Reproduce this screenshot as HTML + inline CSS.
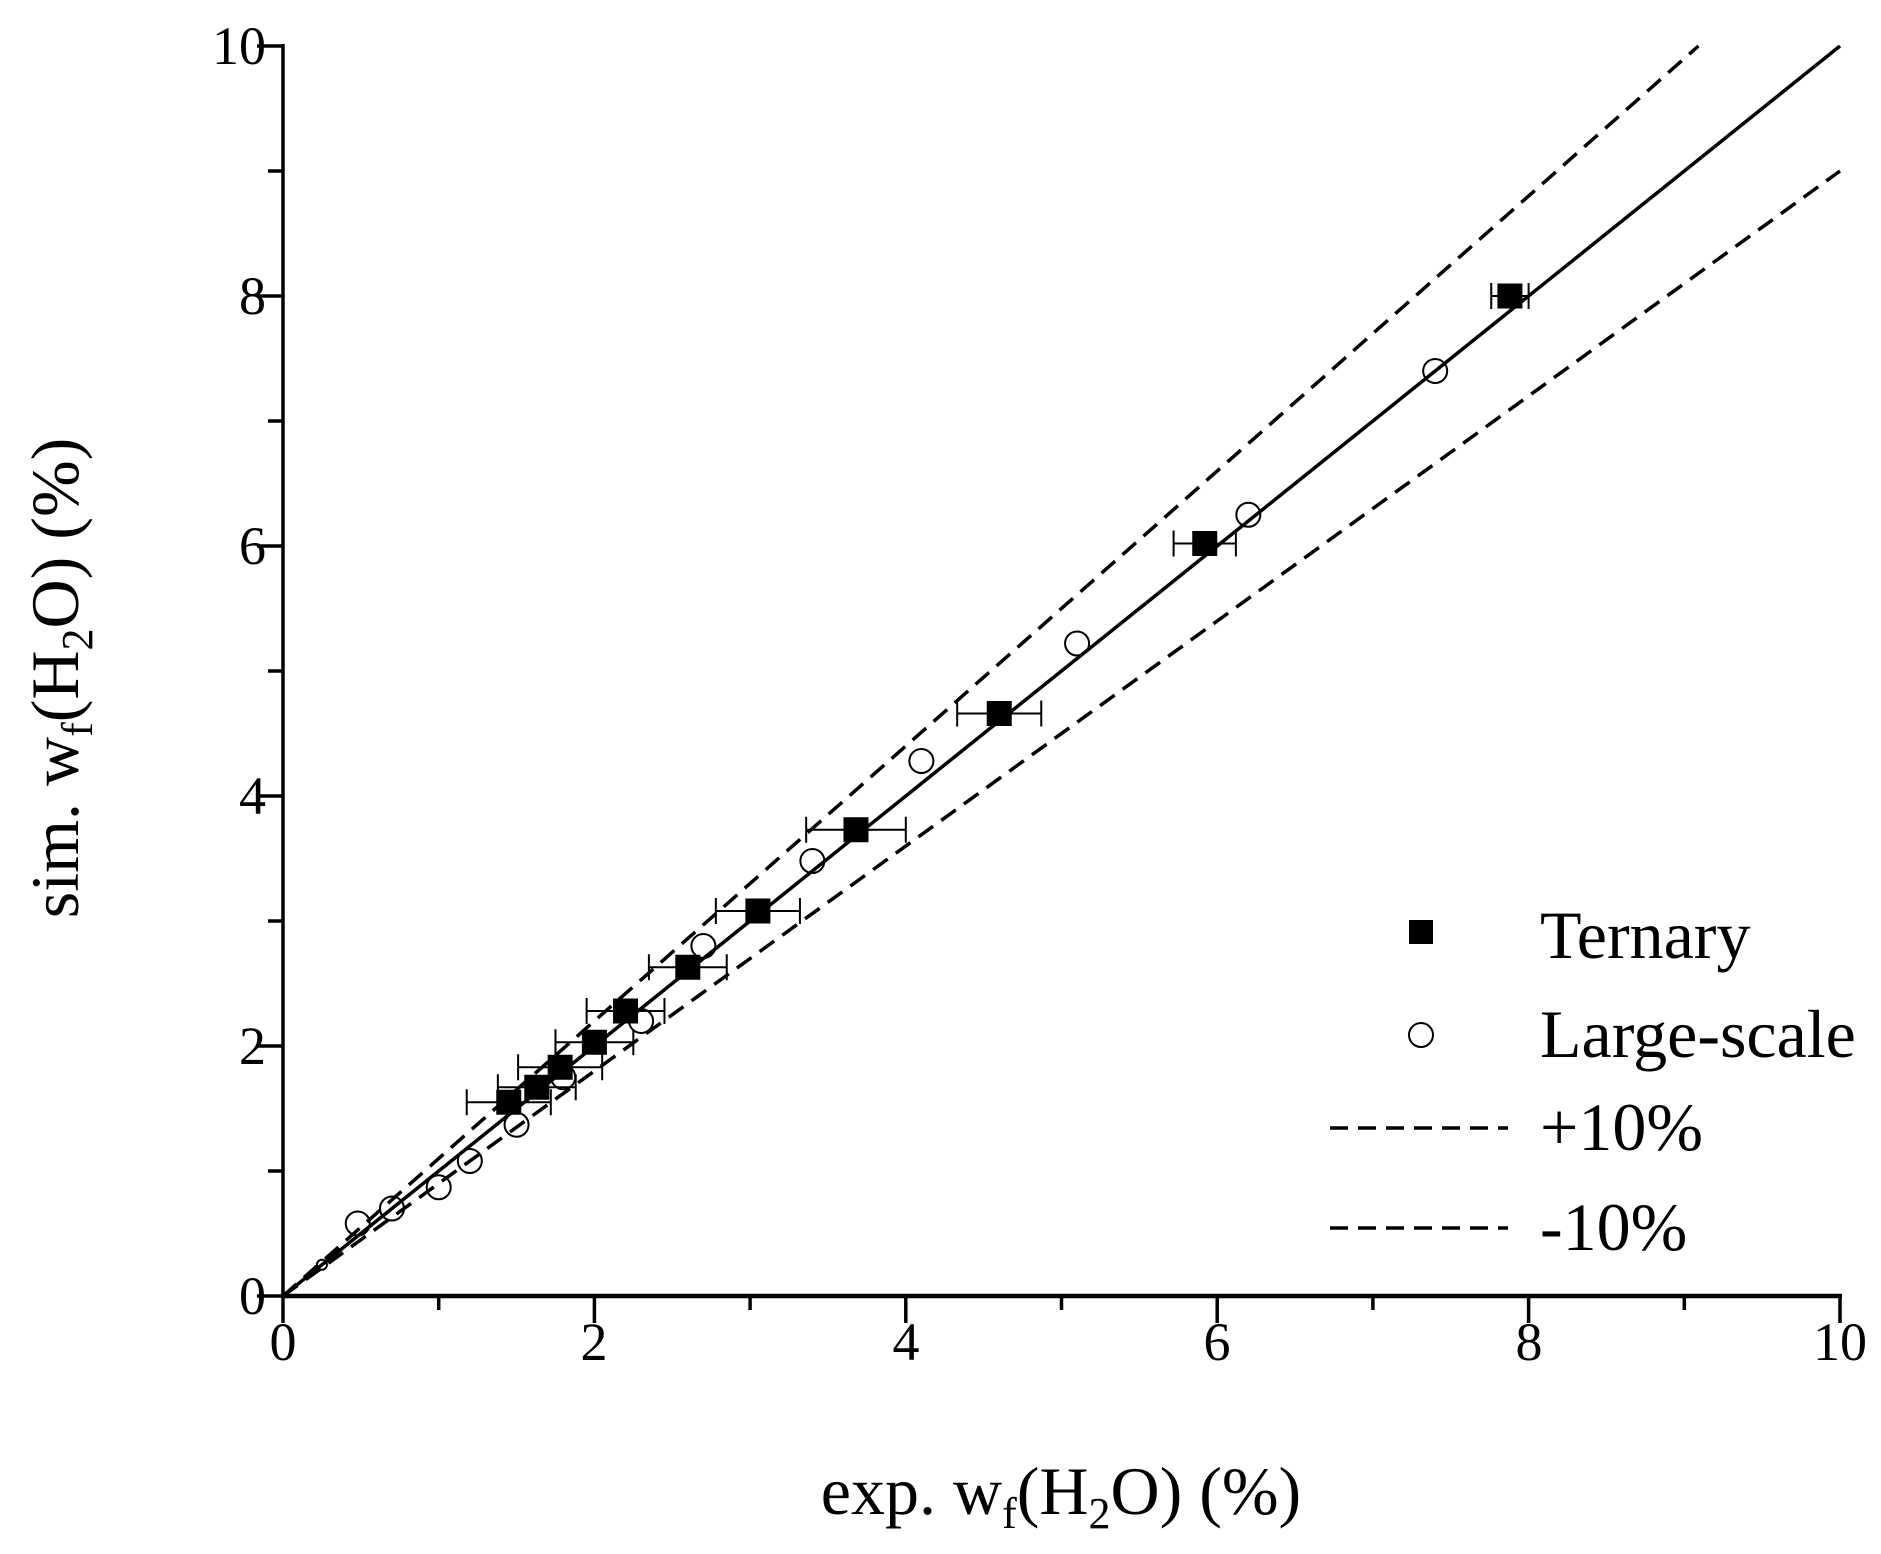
<!DOCTYPE html>
<html><head><meta charset="utf-8"><style>
html,body{margin:0;padding:0;background:#fff;}
svg{display:block;font-family:"Liberation Serif",serif;}
</style></head><body>
<svg id="s" width="1881" height="1554" viewBox="0 0 1881 1554" xmlns="http://www.w3.org/2000/svg">
<g id="plot"></g>
<g font-size="54" fill="#000">
<text x="266" y="64" text-anchor="end">10</text>
<text x="266" y="314" text-anchor="end">8</text>
<text x="266" y="564" text-anchor="end">6</text>
<text x="266" y="814" text-anchor="end">4</text>
<text x="266" y="1064" text-anchor="end">2</text>
<text x="266" y="1314" text-anchor="end">0</text>
<text x="283" y="1360" text-anchor="middle">0</text>
<text x="594" y="1360" text-anchor="middle">2</text>
<text x="906" y="1360" text-anchor="middle">4</text>
<text x="1217" y="1360" text-anchor="middle">6</text>
<text x="1529" y="1360" text-anchor="middle">8</text>
<text x="1840" y="1360" text-anchor="middle">10</text>
</g>
<g font-size="68" fill="#000">
<text x="1540" y="958">Ternary</text>
<text x="1540" y="1057">Large-scale</text>
<text x="1540" y="1150">+10%</text>
<text x="1540" y="1250">-10%</text>
</g>
<g font-size="68" fill="#000">
<text x="1061" y="1514" text-anchor="middle">exp. w<tspan font-size="44" dy="14">f</tspan><tspan dy="-14">(H</tspan><tspan font-size="44" dy="14">2</tspan><tspan dy="-14">O) (%)</tspan></text>
<text transform="translate(78,678) rotate(-90)" text-anchor="middle">sim. w<tspan font-size="44" dy="14">f</tspan><tspan dy="-14">(H</tspan><tspan font-size="44" dy="14">2</tspan><tspan dy="-14">O) (%)</tspan></text>
</g>
</svg>
<script>
var X=v=>283+155.7*v, Y=v=>1296-125*v;
var g=document.getElementById('plot'),h='';
h+='<line x1="283" y1="44" x2="283" y2="1298" stroke="#000" stroke-width="3.5"/>';
h+='<line x1="281" y1="1296" x2="1842" y2="1296" stroke="#000" stroke-width="4.5"/>';
for(var i=0;i<=10;i++){var v=i,maj=i%2==0;
 h+='<line x1="'+(283-(maj?26:15))+'" x2="283" y1="'+Y(v)+'" y2="'+Y(v)+'" stroke="#000" stroke-width="3.5"/>';
 h+='<line y1="1296" y2="'+(1296+(maj?27:14))+'" x1="'+X(v)+'" x2="'+X(v)+'" stroke="#000" stroke-width="3.5"/>';}
h+='<line x1="'+X(0)+'" y1="'+Y(0)+'" x2="'+X(10)+'" y2="'+Y(10)+'" stroke="#000" stroke-width="3.5"/>';
h+='<line x1="'+X(0)+'" y1="'+Y(0)+'" x2="'+X(10/1.1)+'" y2="'+Y(10)+'" stroke="#000" stroke-width="3.5" stroke-dasharray="18,10"/>';
h+='<line x1="'+X(0)+'" y1="'+Y(0)+'" x2="'+X(10)+'" y2="'+Y(9)+'" stroke="#000" stroke-width="3.5" stroke-dasharray="18,10"/>';
[[0.25,0.25],[0.48,0.58],[0.7,0.7],[1.0,0.87],[1.2,1.08],[1.5,1.37],[1.8,1.75],[2.3,2.2],[2.7,2.8],[3.4,3.48],[4.1,4.28],[5.1,5.22],[6.2,6.25],[7.4,7.4]].forEach(function(p){
 var r=p[0]<0.3?5:12;
 h+='<circle cx="'+X(p[0])+'" cy="'+Y(p[1])+'" r="'+r+'" fill="none" stroke="#000" stroke-width="2"/>';});
[[1.45,1.55,0.27],[1.63,1.67,0.25],[1.78,1.83,0.27],[2.0,2.03,0.25],[2.2,2.28,0.25],[2.6,2.63,0.25],[3.05,3.08,0.27],[3.68,3.73,0.32],[4.6,4.66,0.27],[5.92,6.02,0.2],[7.88,8.0,0.12]].forEach(function(p){
 var x=X(p[0]),y=Y(p[1]),a=X(p[0]-p[2]),b=X(p[0]+p[2]);
 h+='<line x1="'+a+'" x2="'+b+'" y1="'+y+'" y2="'+y+'" stroke="#000" stroke-width="2"/>';
 h+='<line x1="'+a+'" x2="'+a+'" y1="'+(y-13)+'" y2="'+(y+13)+'" stroke="#000" stroke-width="2"/>';
 h+='<line x1="'+b+'" x2="'+b+'" y1="'+(y-13)+'" y2="'+(y+13)+'" stroke="#000" stroke-width="2"/>';
 h+='<rect x="'+(x-12.5)+'" y="'+(y-12.5)+'" width="25" height="25" fill="#000"/>';});
h+='<rect x="1409" y="920" width="24" height="24" fill="#000"/>';
h+='<circle cx="1421" cy="1035" r="12" fill="none" stroke="#000" stroke-width="2"/>';
h+='<line x1="1330" x2="1508" y1="1128" y2="1128" stroke="#000" stroke-width="3.5" stroke-dasharray="18,10"/>';
h+='<line x1="1330" x2="1508" y1="1228" y2="1228" stroke="#000" stroke-width="3.5" stroke-dasharray="18,10"/>';
g.innerHTML=h;
</script>
</body></html>
